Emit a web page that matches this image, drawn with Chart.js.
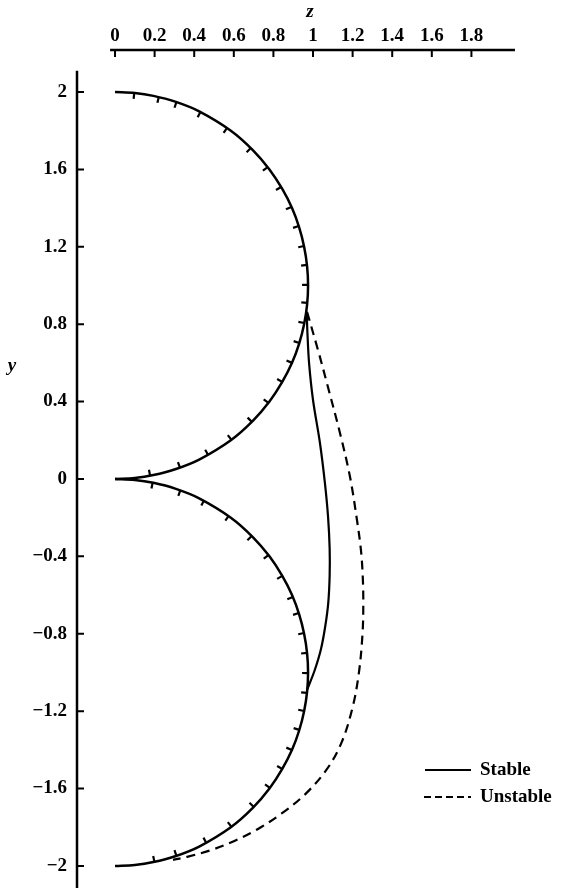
<!DOCTYPE html>
<html>
<head>
<meta charset="utf-8">
<script src="https://cdn.jsdelivr.net/npm/chart.js@4.4.1/dist/chart.umd.min.js"></script>
<style>
  html, body { margin: 0; padding: 0; background: #fff; }
  #wrap { width: 572px; height: 888px; }
</style>
</head>
<body>
<div id="wrap"><canvas id="plot" width="572" height="888"></canvas></div>
<script>
// tick values
const zTicks = [0, 0.2, 0.4, 0.6, 0.8, 1, 1.2, 1.4, 1.6, 1.8];
const yTicks = [-2, -1.6, -1.2, -0.8, -0.4, 0, 0.4, 0.8, 1.2, 1.6, 2];

// boundary arcs, [z, y]
const upperArc = [[0, 2], [0.1, 1.995], [0.194, 1.98], [0.304, 1.95], [0.425, 1.9], [0.585, 1.8],
  [0.696, 1.7], [0.78, 1.6], [0.844, 1.5], [0.894, 1.4], [0.93, 1.3], [0.955, 1.2], [0.97, 1.1],
  [0.975, 1.0], [0.97, 0.9], [0.955, 0.8], [0.93, 0.7], [0.894, 0.6], [0.844, 0.5], [0.78, 0.4],
  [0.696, 0.3], [0.585, 0.2], [0.425, 0.1], [0.304, 0.05], [0.194, 0.02], [0.1, 0.005], [0, 0]];
const lowerArc = [[0, 0], [0.1, -0.005], [0.194, -0.02], [0.304, -0.05], [0.425, -0.1], [0.585, -0.2],
  [0.696, -0.3], [0.78, -0.4], [0.844, -0.5], [0.894, -0.6], [0.93, -0.7], [0.955, -0.8], [0.97, -0.9],
  [0.975, -1.0], [0.97, -1.1], [0.955, -1.2], [0.93, -1.3], [0.894, -1.4], [0.844, -1.5], [0.78, -1.6],
  [0.696, -1.7], [0.585, -1.8], [0.425, -1.9], [0.304, -1.95], [0.194, -1.98], [0.1, -1.995], [0, -2]];

// hatch marks on the inner side of each arc
const upperHatch = [[0.097, 1.995], [0.221, 1.974], [0.31, 1.948], [0.431, 1.897], [0.566, 1.814],
  [0.686, 1.711], [0.771, 1.612], [0.839, 1.509], [0.891, 1.406], [0.928, 1.307], [0.955, 1.204],
  [0.97, 1.106], [0.975, 1.003], [0.971, 0.91], [0.956, 0.806], [0.931, 0.703], [0.894, 0.6],
  [0.845, 0.501], [0.775, 0.393], [0.691, 0.295], [0.588, 0.202], [0.47, 0.124], [0.328, 0.058],
  [0.177, 0.017]];
const lowerHatch = [[0.19, -0.019], [0.33, -0.058], [0.45, -0.11], [0.575, -0.19], [0.69, -0.295],
  [0.775, -0.393], [0.845, -0.501], [0.898, -0.61], [0.928, -0.693], [0.955, -0.796], [0.97, -0.899],
  [0.975, -1.003], [0.97, -1.106], [0.955, -1.199], [0.931, -1.297], [0.893, -1.401], [0.845, -1.499],
  [0.782, -1.597], [0.701, -1.695], [0.588, -1.798], [0.461, -1.881], [0.31, -1.948], [0.199, -1.979]];

// branches
const stable = [[0.968, 0.865], [0.972, 0.75], [0.98, 0.6], [1.0, 0.408], [1.035, 0.186], [1.06, -0.02],
  [1.076, -0.196], [1.084, -0.36], [1.084, -0.5], [1.077, -0.64], [1.062, -0.76], [1.04, -0.88],
  [1.008, -0.99], [0.97, -1.09]];
const unstable = [[0.97, 0.863], [1.025, 0.667], [1.07, 0.496], [1.136, 0.238], [1.187, 0.01],
  [1.222, -0.212], [1.242, -0.367], [1.251, -0.5], [1.254, -0.64], [1.25, -0.8], [1.232, -1.0],
  [1.2, -1.18], [1.145, -1.36], [1.07, -1.5], [0.96, -1.63], [0.84, -1.73], [0.72, -1.81],
  [0.6, -1.872], [0.48, -1.92], [0.364, -1.953], [0.293, -1.969]];

const serif = '"Liberation Serif", "DejaVu Serif", serif';
const pts = arr => arr.map(p => ({ x: p[0], y: p[1] }));
const fmt = v => (v < 0 ? '\u2212' + Math.abs(v) : String(v));

// hatch dashes point toward the centre of their arc
function hatchAngle(ctx) {
  const p = ctx.raw;
  if (!p) return 0;
  const { x, y } = ctx.chart.scales;
  const cy = p.y >= 0 ? 1 : -1;
  const dx = x.getPixelForValue(0) - x.getPixelForValue(p.x);
  const dy = y.getPixelForValue(cy) - y.getPixelForValue(p.y);
  return Math.atan2(dy, dx) * 180 / Math.PI;
}

const axesPlugin = {
  id: 'axesPlugin',
  afterDraw(chart) {
    const { ctx, chartArea } = chart;
    const xs = chart.scales.x, ys = chart.scales.y;
    ctx.save();
    ctx.strokeStyle = '#000';
    ctx.fillStyle = '#000';

    // top z axis
    const top = chartArea.top;
    ctx.lineWidth = 2.5;
    ctx.beginPath();
    ctx.moveTo(xs.getPixelForValue(-0.025), top);
    ctx.lineTo(xs.getPixelForValue(2.02), top);
    ctx.stroke();
    ctx.lineWidth = 2;
    ctx.beginPath();
    zTicks.forEach(v => {
      const px = xs.getPixelForValue(v);
      ctx.moveTo(px, top);
      ctx.lineTo(px, top + 7);
    });
    ctx.stroke();

    // left y axis
    const left = chartArea.left;
    ctx.lineWidth = 2.5;
    ctx.beginPath();
    ctx.moveTo(left, ys.getPixelForValue(2.11));
    ctx.lineTo(left, chartArea.bottom);
    ctx.stroke();
    ctx.lineWidth = 2;
    ctx.beginPath();
    yTicks.forEach(v => {
      const py = ys.getPixelForValue(v);
      ctx.moveTo(left, py);
      ctx.lineTo(left + 7, py);
    });
    ctx.stroke();

    // axis names
    ctx.font = 'italic bold 19px ' + serif;
    ctx.textAlign = 'center';
    ctx.textBaseline = 'middle';
    ctx.fillText('z', 310, 12);
    ctx.fillText('y', 12, 366);

    // legend
    ctx.lineWidth = 2;
    ctx.beginPath();
    ctx.moveTo(425, 770);
    ctx.lineTo(471, 770);
    ctx.stroke();
    ctx.setLineDash([7, 4]);
    ctx.beginPath();
    ctx.moveTo(424, 797);
    ctx.lineTo(471, 797);
    ctx.stroke();
    ctx.setLineDash([]);
    ctx.font = 'bold 19px ' + serif;
    ctx.textAlign = 'left';
    ctx.fillText('Stable', 480, 770);
    ctx.fillText('Unstable', 480, 797);
    ctx.restore();
  }
};

const curve = (data, width, dash) => ({
  data: pts(data),
  showLine: true,
  borderColor: '#000',
  borderWidth: width,
  borderDash: dash || [],
  pointRadius: 0,
  tension: 0.35,
  fill: false
});

const hatch = data => ({
  data: pts(data),
  showLine: false,
  pointStyle: 'dash',
  pointRadius: 6,
  pointBorderWidth: 2.2,
  pointBorderColor: '#000',
  pointBackgroundColor: '#000',
  pointRotation: hatchAngle
});

const noPad = s => { s.paddingTop = 0; s.paddingBottom = 0; s.paddingLeft = 0; s.paddingRight = 0; };

new Chart(document.getElementById('plot'), {
  type: 'scatter',
  data: {
    datasets: [
      curve(upperArc, 2.5),
      curve(lowerArc, 2.5),
      hatch(upperHatch),
      hatch(lowerHatch),
      curve(stable, 2.2),
      curve(unstable, 2.2, [9, 6])
    ]
  },
  options: {
    responsive: false,
    animation: false,
    events: [],
    layout: { padding: 0, autoPadding: false },
    plugins: { legend: { display: false }, tooltip: { enabled: false } },
    scales: {
      x: {
        type: 'linear',
        position: 'top',
        min: -0.192,
        max: 2.308,
        afterBuildTicks: s => { s.ticks = zTicks.map(v => ({ value: v })); },
        afterFit: s => { s.height = 50; noPad(s); },
        grid: { display: false, drawTicks: false },
        border: { display: false },
        ticks: { color: '#000', padding: 3, maxRotation: 0, font: { family: serif, size: 19, weight: 'bold' }, callback: v => fmt(v) }
      },
      y: {
        type: 'linear',
        min: -2.114,
        max: 2.217,
        afterBuildTicks: s => { s.ticks = yTicks.map(v => ({ value: v })); },
        afterFit: s => { s.width = 77; noPad(s); },
        grid: { display: false, drawTicks: false },
        border: { display: false },
        ticks: { color: '#000', padding: 10, font: { family: serif, size: 19, weight: 'bold' }, callback: v => fmt(v) }
      }
    }
  },
  plugins: [axesPlugin]
});
</script>
</body>
</html>
